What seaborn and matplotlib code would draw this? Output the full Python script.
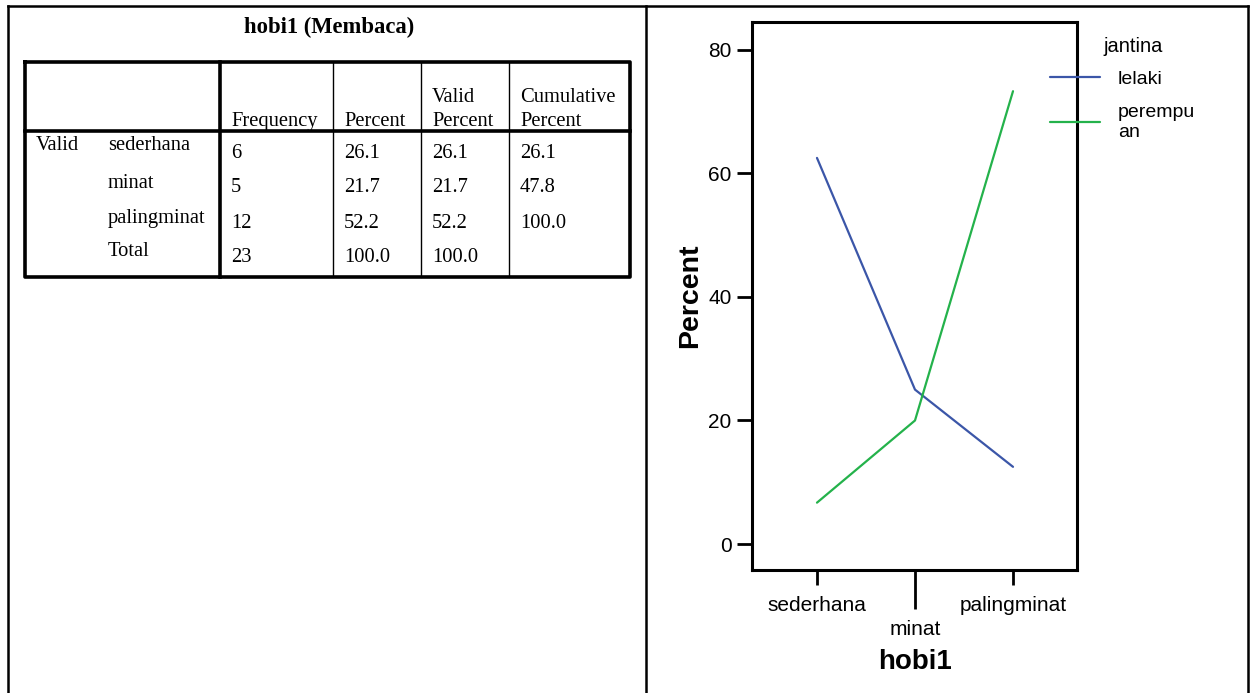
import pandas as pd
import matplotlib
matplotlib.use("Agg")
import matplotlib.pyplot as plt
import seaborn as sns

# --- frequency table (left) ---
TABLE_TITLE = "hobi1 (Membaca)"
HEADER_TOP = ["", "", "Valid", "Cumulative"]
HEADER_BOTTOM = ["Frequency", "Percent", "Percent", "Percent"]
ROW_GROUP = "Valid"
ROW_LABELS = ["sederhana", "minat", "palingminat", "Total"]
FREQUENCY = ["6", "5", "12", "23"]
PERCENT = ["26.1", "21.7", "52.2", "100.0"]
VALID_PERCENT = ["26.1", "21.7", "52.2", "100.0"]
CUMULATIVE_PERCENT = ["26.1", "47.8", "100.0", ""]

# --- line chart (right) ---
HOBI1 = ["sederhana", "minat", "palingminat"]
LELAKI = [62.5, 25.0, 12.5]
PEREMPUAN = [6.7, 20.0, 73.3]
JANTINA = ["lelaki", "perempuan"]
LEGEND_LABELS = ["lelaki", "perempu\nan"]
Y_TICKS = [0, 20, 40, 60, 80]

BLUE = "#3b56a8"
GREEN = "#24b24b"
W, H = 1250, 693


def draw_table(bg):
    # outer page frame
    kw = dict(color="black", lw=1.8, solid_capstyle="projecting")
    bg.plot([8, W - 2], [6, 6], **kw)
    bg.plot([8, 8], [6, H], **kw)
    bg.plot([646, 646], [6, H], **kw)
    bg.plot([W - 2, W - 2], [6, H], **kw)

    bg.text(329, 27, TABLE_TITLE, ha="center", va="center", fontsize=16.3,
            fontweight="bold", family="Liberation Serif")

    # table box and separators
    thick = dict(color="black", lw=2.6, solid_capstyle="projecting")
    thin = dict(color="black", lw=1.0)
    bg.plot([25, 630, 630, 25, 25], [62, 62, 277, 277, 62], **thick)
    bg.plot([25, 630], [131, 131], **thick)
    bg.plot([220, 220], [62, 277], **thick)
    for x in [333, 421, 509]:
        bg.plot([x, x], [62, 277], **thin)

    serif = dict(family="Liberation Serif", fontsize=14.8)
    col_x = [231, 344, 432, 520]
    for x, top, bottom in zip(col_x, HEADER_TOP, HEADER_BOTTOM):
        if top:
            bg.text(x, 102, top, va="baseline", **serif)
        bg.text(x, 126, bottom, va="baseline", **serif)

    label_y = [146, 183, 218, 252]
    value_y = [153, 188, 223, 258]
    bg.text(36, label_y[0], ROW_GROUP, va="center", **serif)
    for i, name in enumerate(ROW_LABELS):
        bg.text(108, label_y[i], name, va="center", **serif)
        cols = [FREQUENCY[i], PERCENT[i], VALID_PERCENT[i], CUMULATIVE_PERCENT[i]]
        for x, val in zip(col_x, cols):
            bg.text(x, value_y[i], val, va="center", **serif)


def draw_chart(fig):
    ax = fig.add_axes([752 / W, 1 - 570 / H, 325 / W, 548 / H])
    df = pd.DataFrame({
        "hobi1": HOBI1 + HOBI1,
        "Percent": LELAKI + PEREMPUAN,
        "jantina": [JANTINA[0]] * len(HOBI1) + [JANTINA[1]] * len(HOBI1),
    })
    sns.lineplot(data=df, x="hobi1", y="Percent", hue="jantina",
                 palette=[BLUE, GREEN], sort=False, linewidth=1.6, ax=ax)

    ax.set_xlim(-0.663, 2.653)
    ax.set_ylim(-4.2, 84.5)
    ax.set_yticks(Y_TICKS)
    ax.set_xticks(range(len(HOBI1)))
    ax.set_xticklabels(HOBI1)
    for s in ax.spines.values():
        s.set_visible(True)
        s.set_linewidth(2.2)
        s.set_color("black")
    ax.tick_params(axis="both", direction="out", length=10.8, width=2,
                   labelsize=15, colors="black", bottom=True, left=True)
    ax.tick_params(axis="y", pad=4)
    ax.tick_params(axis="x", pad=8)
    # the middle category label is staggered below on a longer tick
    mid = ax.xaxis.get_major_ticks()[1]
    mid.set_pad(8 + 28 - 10.8)
    mid.tick1line.set_markersize(28)

    ax.set_ylabel("Percent", fontsize=20.5, fontweight="bold")
    ax.set_xlabel("hobi1", fontsize=20, fontweight="bold")
    ax.yaxis.set_label_coords(-0.151, 0.5)
    ax.xaxis.set_label_coords(0.5, -0.144)

    handles, _ = ax.get_legend_handles_labels()
    ax.get_legend().remove()
    fig.legend(handles, LEGEND_LABELS, loc="upper left",
               bbox_to_anchor=(1050 / W, 1 - 70 / H), frameon=False,
               fontsize=14, handlelength=2.57, handletextpad=0.93,
               borderpad=0, borderaxespad=0, labelspacing=0.85)
    fig.text(1103 / W, 1 - 52 / H, "jantina", fontsize=14.5, va="baseline")


def main():
    sns.set_theme(style="white")
    plt.rcParams["font.family"] = ["Liberation Sans", "DejaVu Sans"]
    plt.rcParams["text.color"] = "black"
    plt.rcParams["axes.labelcolor"] = "black"
    fig = plt.figure(figsize=(W / 100, H / 100), dpi=100)
    bg = fig.add_axes([0, 0, 1, 1])
    bg.set_xlim(0, W)
    bg.set_ylim(H, 0)
    bg.axis("off")
    draw_table(bg)
    draw_chart(fig)
    fig.savefig("out.png", dpi=100)
    plt.close(fig)


if __name__ == "__main__":
    main()
